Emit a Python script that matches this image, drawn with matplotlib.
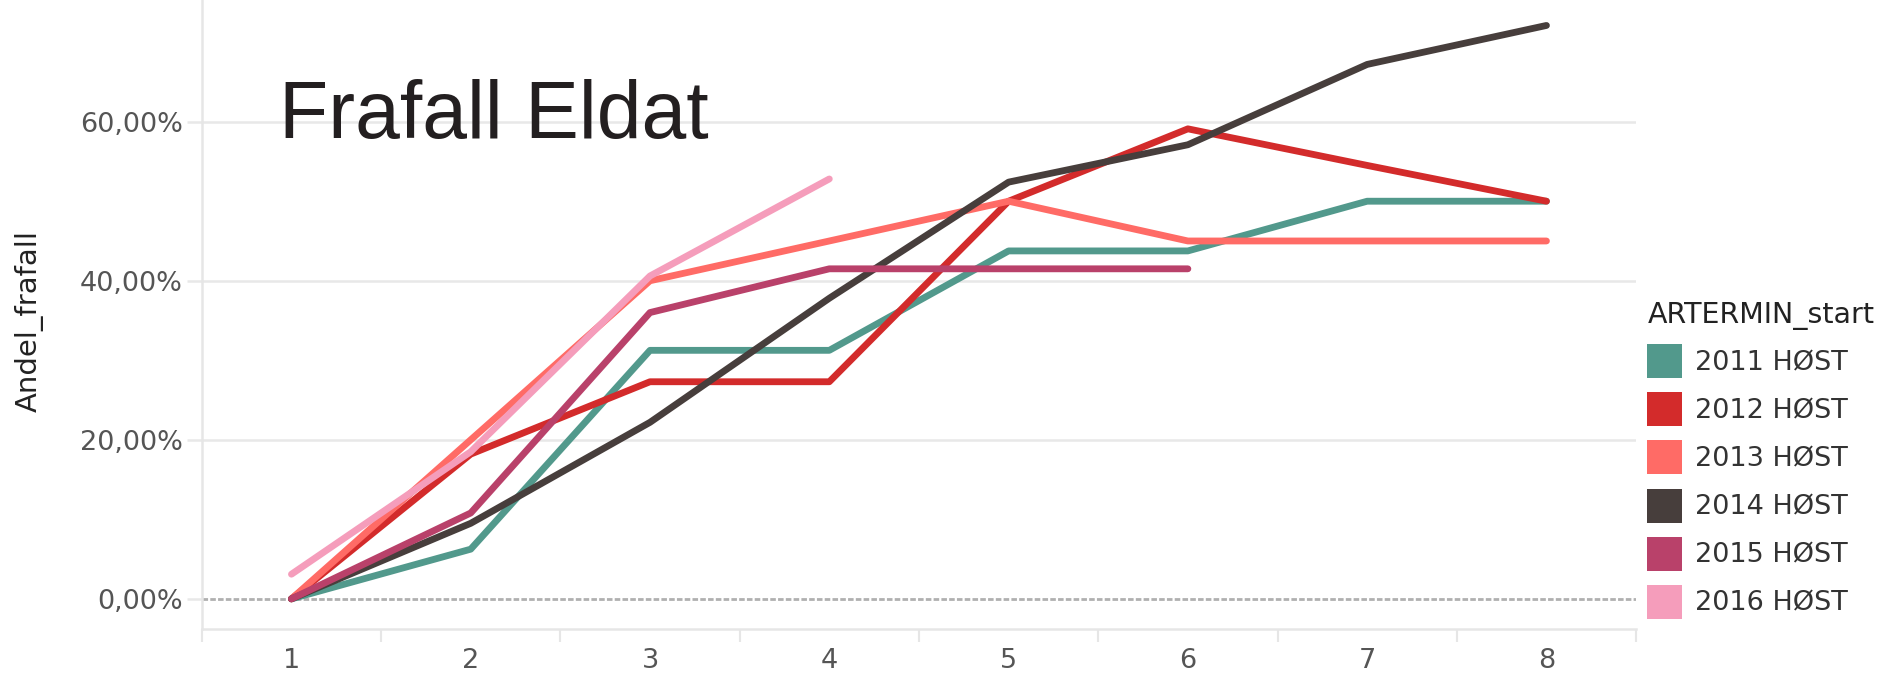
import matplotlib
matplotlib.use('Agg')
import matplotlib.pyplot as plt
from matplotlib.patches import Patch
from matplotlib.ticker import FuncFormatter, MultipleLocator

# Semester (1-8) og andel frafall i prosent per kull
semester = [1, 2, 3, 4, 5, 6, 7, 8]
kull = ['2011 HØST', '2012 HØST', '2013 HØST', '2014 HØST', '2015 HØST', '2016 HØST']
frafall_2011 = [0, 6.25, 31.25, 31.25, 43.75, 43.75, 50.0, 50.0]
frafall_2012 = [0, 18.2, 27.3, 27.3, 50.0, 59.1, 54.5, 50.0]
frafall_2013 = [0, 20.0, 40.0, 45.0, 50.0, 45.0, 45.0, 45.0]
frafall_2014 = [0, 9.5, 22.2, 37.8, 52.4, 57.1, 67.2, 72.1]
frafall_2015 = [0, 10.8, 36.0, 41.5, 41.5, 41.5]
frafall_2016 = [3.1, 18.5, 40.6, 52.8]
farger = ['#52998C', '#D32B2B', '#FF6B66', '#473E3C', '#B9416A', '#F59DBB']

serier = [frafall_2011, frafall_2012, frafall_2013, frafall_2014, frafall_2015, frafall_2016]

plt.rcParams['font.family'] = ['DejaVu Sans']

fig = plt.figure(figsize=(18.86, 6.77), dpi=100)
ax = fig.add_axes([0.107, 0.071, 0.7605, 0.929])

# Rutenett og nullinje
for g in [20, 40, 60]:
    ax.axhline(g, color='#e8e8e8', lw=1.8, zorder=0)
ax.axhline(0, color='#b0b0b0', lw=2.0, ls=(0, (2, 0.8)), zorder=1)

# Linjer per kull
for navn, verdier, farge in zip(kull, serier, farger):
    ax.plot(semester[:len(verdier)], verdier, color=farge, lw=4.9,
            solid_capstyle='round', solid_joinstyle='round', zorder=3)

ax.set_xlim(0.5, 8.5)
ax.set_ylim(-3.78, 75.3)

ax.set_xticks(semester)
ax.xaxis.set_minor_locator(MultipleLocator(1, offset=0.5))
ax.tick_params(axis='x', which='major', length=0, pad=14, labelsize=19.5, labelcolor='#555555')
ax.tick_params(axis='x', which='minor', length=9, width=1.5, color='#e6e6e6')

ax.set_yticks([0, 20, 40, 60])
ax.yaxis.set_major_formatter(FuncFormatter(lambda v, p: f"{v:.2f}%".replace('.', ',')))
ax.tick_params(axis='y', length=10.5, width=1.8, color='#e8e8e8', pad=3,
               labelsize=19.5, labelcolor='#555555')

for side in ['top', 'right']:
    ax.spines[side].set_visible(False)
for side in ['left', 'bottom']:
    ax.spines[side].set_color('#e6e6e6')
    ax.spines[side].set_linewidth(1.8)

ax.set_ylabel('Andel_frafall', fontsize=21, color='#222222')
ax.yaxis.set_label_coords(-0.110, 0.49, transform=ax.transAxes)

# Tittel inne i plottet
fig.text(0.148, 0.796, 'Frafall Eldat', fontsize=58, family='Liberation Sans',
         color='#231F20', va='baseline', ha='left')

# Forklaring
handles = [Patch(facecolor=f, edgecolor='none') for f in farger]
leg = fig.legend(handles, kull, title='ARTERMIN_start', loc='upper left',
                 bbox_to_anchor=(0.8735, 0.555), frameon=False, fontsize=19.5,
                 title_fontsize=20.5, handlelength=1.29, handleheight=1.554,
                 handletextpad=0.45, labelspacing=0.52, borderpad=0, borderaxespad=0,
                 alignment='left')
for t in leg.get_texts():
    t.set_color('#333333')
leg.get_title().set_color('#222222')

plt.savefig('out.png', dpi=100)
